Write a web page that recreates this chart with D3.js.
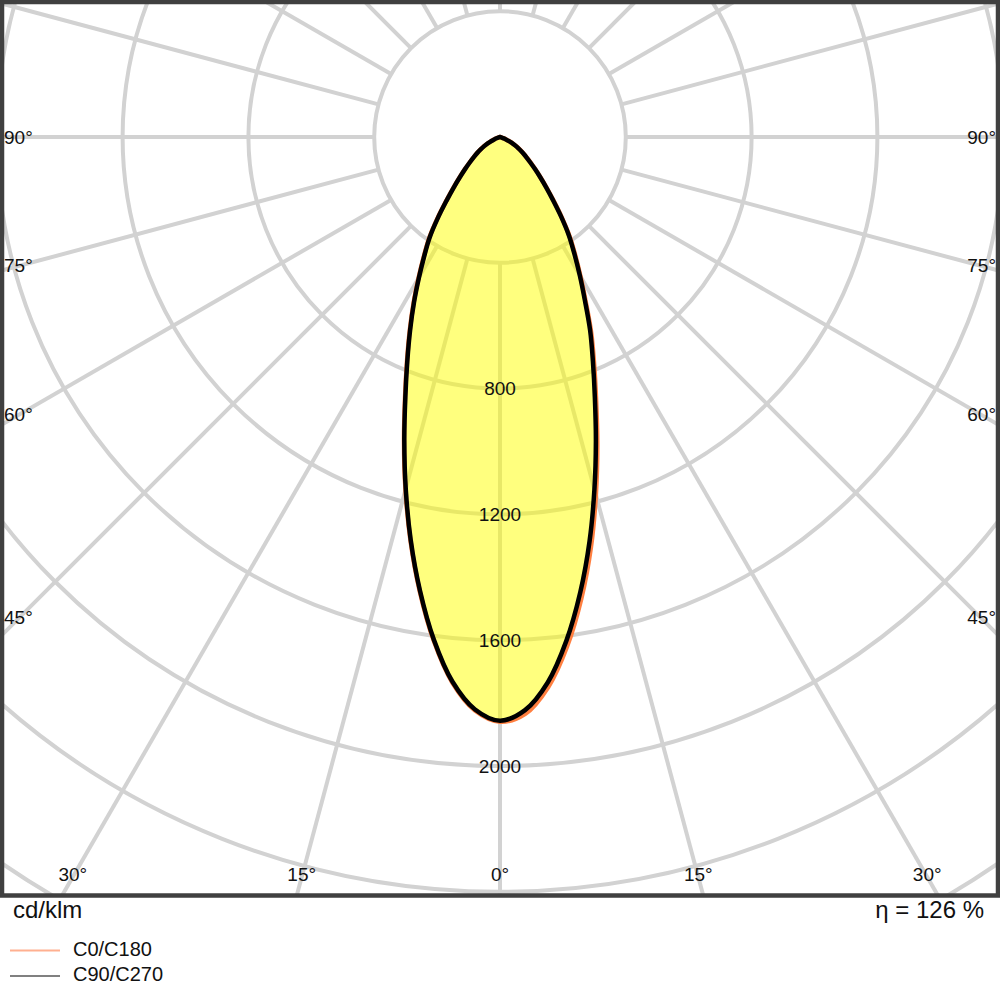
<!DOCTYPE html>
<html><head><meta charset="utf-8">
<script src="https://cdn.jsdelivr.net/npm/d3@7"></script>
<style>html,body{margin:0;padding:0;background:#fff}</style>
</head><body>
<svg id="c" width="1000" height="1000"></svg>
<script>
// gamma angles (deg from nadir), 2.5° steps 0..90
const gammaAngles = [0,2.5,5,7.5,10,12.5,15,17.5,20,22.5,25,27.5,30,32.5,35,37.5,40,42.5,45,47.5,50,52.5,55,57.5,60,62.5,65,67.5,70,72.5,75,77.5,80,82.5,85,87.5,90];
// intensities cd/klm
const c0   = [1868,1836,1756,1634,1490,1336,1178,1029,894,782,686,590,512,445,386,323,266,220,183,152,127,107,90,75,62,48,34,22,13,6,2,0,0,0,0,0,0];
const c180 = [1859,1825,1741,1615,1468,1315,1161,1015,883,773,679,595,518,451,393,328,267,220,181,151,126,106,89,73,59,45,31,21,12,6,2,0,0,0,0,0,0];
const c90  = [1856,1822,1738,1612,1465,1312,1158,1012,880,770,676,592,515,448,390,325,265,218,180,150,125,105,88,72,58,44,30,20,12,6,2,0,0,0,0,0,0];
const c270 = [1856,1824,1741,1616,1470,1316,1160,1014,882,772,678,584,507,440,382,320,263,218,181,151,126,106,89,74,61,47,33,22,13,6,2,0,0,0,0,0,0];
const ringValues = [400,800,1200,1600,2000,2400,2800];
const ringLabelValues = [800,1200,1600,2000];
const sideAngleLabels = [90,75,60,45];
const bottomAngleLabels = [-30,-15,0,15,30];
const spokeAngles = d3.range(0,360,15);
const seriesNames = ["C0/C180","C90/C270"];
const unitLabel = "cd/klm";
const efficiency = 126;

const cx = 500, cy = 137;
const frame = {x:2, y:2, w:996, h:893.5};
const font = "'Liberation Sans', Arial, sans-serif";
const svg = d3.select("#c");
const r = d3.scaleLinear().domain([0,2800]).range([0,2800*0.3145]);
const rad = d => d*Math.PI/180;

svg.append("defs").append("clipPath").attr("id","fc")
  .append("rect").attr("x",frame.x).attr("y",frame.y).attr("width",frame.w).attr("height",frame.h);

const g = svg.append("g").attr("clip-path","url(#fc)");
const grid = g.append("g").attr("stroke","#d2d2d2").attr("stroke-width",4).attr("fill","none");
grid.selectAll("circle").data(ringValues).join("circle")
  .attr("cx",cx).attr("cy",cy).attr("r",d=>r(d));
grid.selectAll("line").data(spokeAngles).join("line")
  .attr("x1",a=>cx+r(400)*Math.sin(rad(a))).attr("y1",a=>cy+r(400)*Math.cos(rad(a)))
  .attr("x2",a=>cx+1400*Math.sin(rad(a))).attr("y2",a=>cy+1400*Math.cos(rad(a)));

function pts(leftVals, rightVals){
  const left = gammaAngles.map((a,i)=>({a:Math.PI+rad(a), v:leftVals[i]})).reverse();
  const right = gammaAngles.map((a,i)=>({a:Math.PI-rad(a), v:rightVals[i]}));
  const trimL = left.filter((p,i)=> p.v>0 || (i+1<left.length && left[i+1].v>0));
  const rt = right.filter((p,i)=> p.v>0 || (i>0 && right[i-1].v>0));
  return trimL.concat(rt.slice(1));
}
const line = d3.lineRadial().angle(p=>p.a).radius(p=>r(p.v)).curve(d3.curveCatmullRom.alpha(0.5));
const dA = line(pts(c180,c0))+"Z";
const dB = line(pts(c90,c270))+"Z";

const fillG = g.append("g").attr("transform",`translate(${cx},${cy})`).attr("opacity",0.5);
fillG.append("path").attr("d",dA).attr("fill","#ffff00");
fillG.append("path").attr("d",dB).attr("fill","#ffff00");

const lineG = g.append("g").attr("transform",`translate(${cx},${cy})`).attr("fill","none").attr("stroke-width",4.5).attr("stroke-linejoin","round");
lineG.append("path").attr("d",dA).attr("stroke","#ff7f40");
lineG.append("path").attr("d",dB).attr("stroke","#000");

g.append("g").selectAll("text").data(ringLabelValues).join("text")
  .attr("x",cx).attr("y",d=>cy+r(d)).attr("dy","0.36em")
  .attr("text-anchor","middle").attr("font-family",font).attr("font-size",19).attr("fill","#111")
  .text(d=>d);

const sideY = a => a===90 ? cy : cy + (cx-20)/Math.tan(rad(a));
g.append("g").selectAll("text").data(sideAngleLabels).join("text")
  .attr("x",4).attr("y",sideY).attr("dy","0.36em")
  .attr("font-family",font).attr("font-size",19).attr("fill","#111").text(d=>d+"°");
g.append("g").selectAll("text").data(sideAngleLabels).join("text")
  .attr("x",996).attr("y",sideY).attr("dy","0.36em").attr("text-anchor","end")
  .attr("font-family",font).attr("font-size",19).attr("fill","#111").text(d=>d+"°");
g.append("g").selectAll("text").data(bottomAngleLabels).join("text")
  .attr("x",a=>cx+(877-cy)*Math.tan(rad(a))).attr("y",874).attr("dy","0.36em").attr("text-anchor","middle")
  .attr("font-family",font).attr("font-size",19).attr("fill","#111").text(d=>Math.abs(d)+"°");

svg.append("rect").attr("x",frame.x).attr("y",frame.y).attr("width",frame.w).attr("height",frame.h)
  .attr("fill","none").attr("stroke","#404040").attr("stroke-width",4.5);

svg.append("text").attr("x",13).attr("y",918).attr("font-family",font).attr("font-size",24).attr("fill","#111").text(unitLabel);
svg.append("text").attr("x",984).attr("y",918).attr("text-anchor","end").attr("font-family",font).attr("font-size",24).attr("fill","#111")
  .text(`η = ${efficiency} %`);

const legColors = ["#ffb090","#808080"];
const leg = svg.append("g");
seriesNames.forEach((n,i)=>{
  const y = 950.5 + i*25.5;
  leg.append("line").attr("x1",10).attr("x2",60).attr("y1",y).attr("y2",y).attr("stroke",legColors[i]).attr("stroke-width",2);
  leg.append("text").attr("x",73).attr("y",y+5).attr("font-family",font).attr("font-size",20).attr("fill","#111").text(n);
});
</script>
</body></html>
